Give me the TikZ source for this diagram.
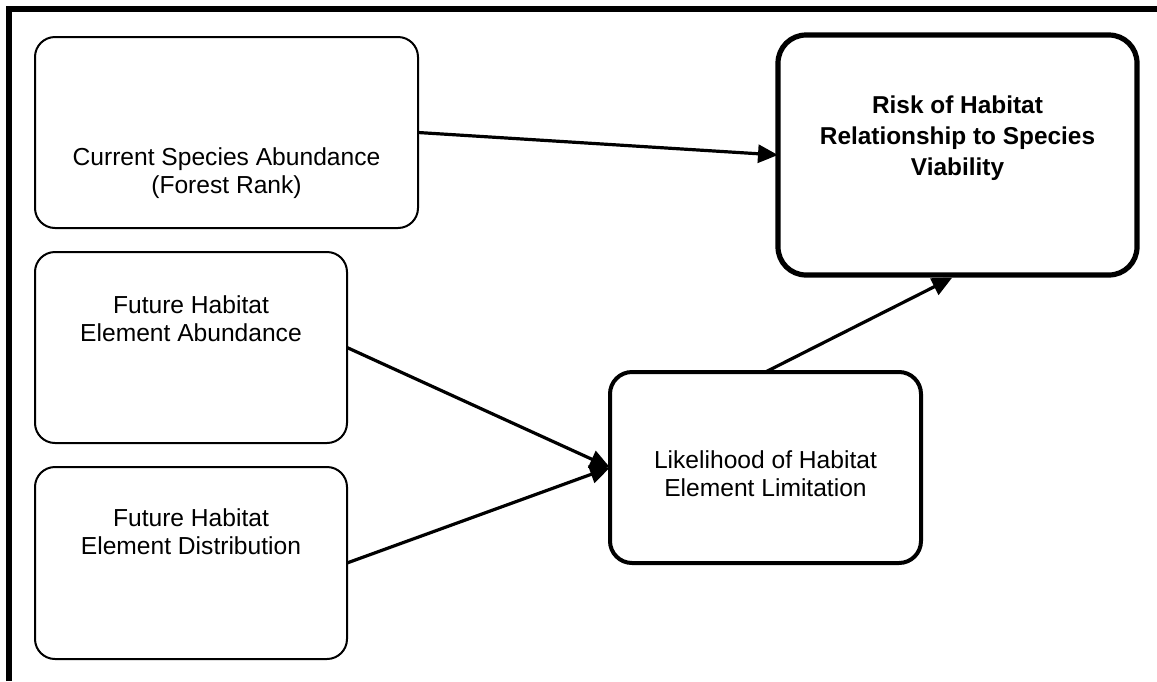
\documentclass[tikz,border=0pt]{standalone}
\usepackage{fontspec}
\setmainfont{Liberation Sans}
\usetikzlibrary{arrows.meta}
\begin{document}
\begin{tikzpicture}[x=0.5pt,y=-0.5pt,
  thinbox/.style={draw, line width=1pt, rounded corners=10pt, inner sep=0pt, outer sep=0pt},
  midbox/.style={draw, line width=2pt, rounded corners=11pt, inner sep=0pt, outer sep=0pt},
  bigbox/.style={draw, line width=2.6pt, rounded corners=14pt, inner sep=0pt, outer sep=0pt},
  lbl/.style={align=center, font=\fontsize{12.3pt}{14pt}\selectfont, inner sep=0pt},
  blbl/.style={align=center, font=\fontsize{12.2pt}{15.5pt}\selectfont\bfseries, inner sep=0pt},
  conn/.style={line width=1.6pt, -{Triangle[length=10pt,width=9pt]}}]
\useasboundingbox (0,0) rectangle (1157,681);
% frame (top and left only)
\coordinate (fbl) at (9,681);
\coordinate (ftl) at (9,9);
\coordinate (ftr) at (1157,9);
\draw[line width=2.6pt] (fbl) -- (ftl) -- (ftr);
% boxes
\node[thinbox, minimum width=191.5pt, minimum height=95.5pt] (cur) at (226.5,132.5) {};
\node[thinbox, minimum width=156pt, minimum height=95.5pt] (fab) at (191,347.5) {};
\node[thinbox, minimum width=156pt, minimum height=96pt] (fdi) at (191,563) {};
\node[midbox, minimum width=155.5pt, minimum height=95.5pt] (lik) at (765.5,467.5) {};
\node[bigbox, minimum width=179.5pt, minimum height=120pt] (risk) at (957.5,155) {};
% texts
\node[lbl] (tcur) at (226.5,173) {Current Species Abundance\\(Forest Rank)};
\node[lbl] (tfab) at (191,319) {Future Habitat\\Element Abundance};
\node[lbl] (tfdi) at (191,532) {Future Habitat\\Element Distribution};
\node[lbl] (tlik) at (765.5,474) {Likelihood of Habitat\\Element Limitation};
\node[blbl] (trisk) at (957.5,138) {Risk of Habitat\\Relationship to Species\\Viability};
% connectors
\draw[conn] (cur.east) -- (risk.west);
\draw[conn] (fab.east) -- (lik.west);
\draw[conn] (fdi.east) -- (lik.west);
\draw[conn, shorten >=3pt] (lik.north) -- (risk.south);
\end{tikzpicture}
\end{document}
